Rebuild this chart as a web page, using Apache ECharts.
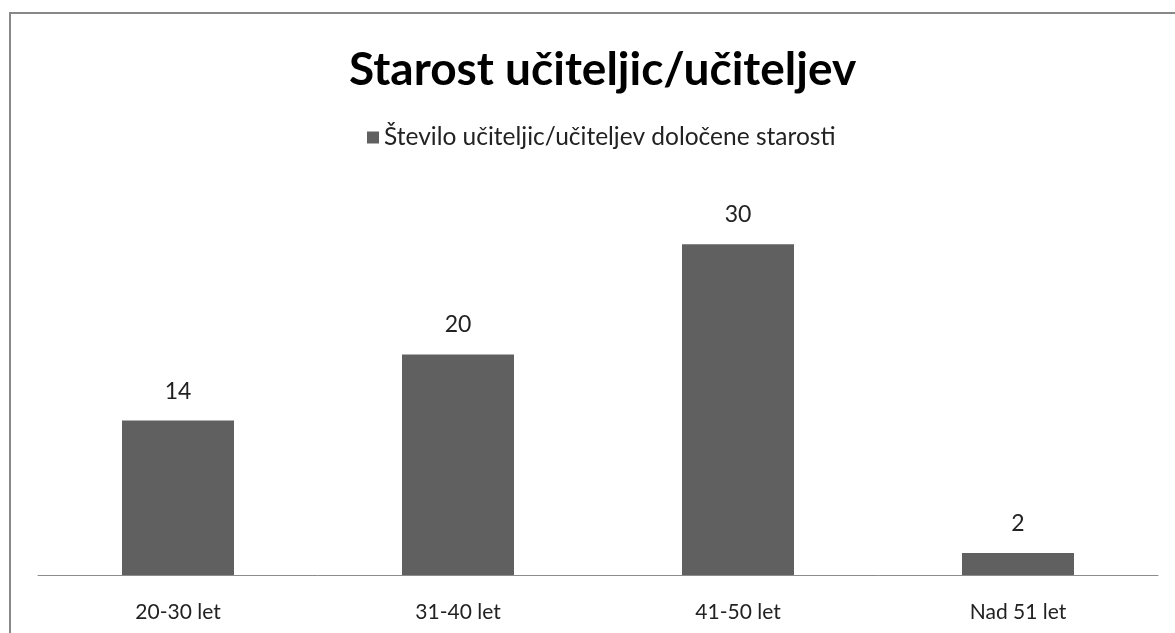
<!DOCTYPE html>
<html>
<head>
<meta charset="utf-8">
<script src="https://cdn.jsdelivr.net/npm/echarts@6/dist/echarts.min.js"></script>
<style>
  html, body { margin: 0; padding: 0; background: #fff; }
  #main { width: 1175px; height: 633px; }
</style>
</head>
<body>
<div id="main"></div>
<script>
  const categories = ['20-30 let', '31-40 let', '41-50 let', 'Nad 51 let']
  const values = [14, 20, 30, 2]
  const seriesName = 'Število učiteljic/učiteljev določene starosti'

  const myChart = echarts.init(document.getElementById('main'))
  myChart.setOption({
    animation: false,
    textStyle: { fontFamily: 'Lato' },
    title: {
      text: 'Starost učiteljic/učiteljev',
      left: 344,
      top: 42,
      textStyle: { fontFamily: 'Lato', fontWeight: 'bold', fontSize: 46, color: '#000' }
    },
    legend: {
      top: 120,
      left: 362,
      icon: 'rect',
      itemWidth: 12,
      itemHeight: 12,
      itemGap: 5,
      textStyle: { fontFamily: 'Lato', fontSize: 24.5, color: '#222' },
      data: [seriesName]
    },
    graphic: [
      {
        type: 'rect',
        shape: { x: 10, y: 13, width: 1300, height: 800 },
        style: { fill: 'none', stroke: '#888', lineWidth: 2 }
      }
    ],
    grid: { left: 38, right: 17, top: 189, bottom: 58 },
    xAxis: {
      type: 'category',
      data: categories,
      axisTick: { show: false },
      axisLine: { lineStyle: { color: '#8c8c8c', width: 1 } },
      axisLabel: { fontFamily: 'Lato', fontSize: 21, color: '#222', margin: 27 }
    },
    yAxis: {
      type: 'value',
      min: 0,
      max: 35,
      show: false,
      splitLine: { show: false }
    },
    series: [
      {
        name: seriesName,
        type: 'bar',
        data: values,
        barWidth: '40%',
        itemStyle: { color: '#606060' },
        label: {
          show: true,
          position: 'top',
          distance: 18,
          fontFamily: 'Lato',
          fontSize: 23,
          color: '#222'
        }
      }
    ]
  })
</script>
</body>
</html>
